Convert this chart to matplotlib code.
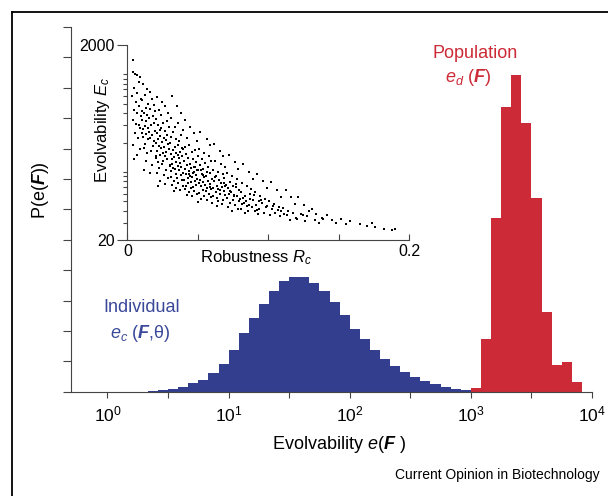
import numpy as np
import matplotlib
matplotlib.use("Agg")
import matplotlib.pyplot as plt
from matplotlib.ticker import FixedLocator, NullFormatter, FixedFormatter
from matplotlib.lines import Line2D

plt.rcParams['font.family'] = ['Liberation Sans', 'DejaVu Sans']
plt.rcParams['mathtext.fontset'] = 'custom'
plt.rcParams['mathtext.rm'] = 'Liberation Sans'
plt.rcParams['mathtext.it'] = 'Liberation Sans:italic'
plt.rcParams['mathtext.bf'] = 'Liberation Sans:bold'
plt.rcParams['mathtext.bfit'] = 'Liberation Sans:italic:bold'

# histogram bins: 12 log bins per decade, given by index of first bin
bins_per_decade = 12
blue_first_bin = 4
red_first_bin = 36
# individual evolvability e_c (arbitrary probability units)
blue_heights = [0.02, 0.06, 0.10, 0.16, 0.27, 0.38, 0.60, 0.91, 1.37, 1.92,
                2.41, 2.90, 3.32, 3.64, 3.78, 3.76, 3.56, 3.32, 2.96, 2.52,
                2.05, 1.73, 1.37, 1.09, 0.85, 0.66, 0.49, 0.36, 0.25, 0.16,
                0.10, 0.06, 0.03, 0.02]
# population evolvability e_d
red_heights = [0.11, 1.75, 5.70, 9.38, 10.42, 8.83, 6.36, 2.63, 0.88, 0.99, 0.33]

# inset scatter: robustness R_c vs evolvability E_c
inset_points = [
    (0.0042, 1400), (0.0038, 1050), (0.0051, 1000), (0.0064, 980), (0.0088, 950),
    (0.0079, 830), (0.0047, 720), (0.0071, 650), (0.0035, 600), (0.0093, 560),
    (0.0058, 520), (0.0083, 470), (0.0044, 430), (0.0069, 400), (0.0097, 370),
    (0.0039, 340), (0.0061, 310), (0.0086, 280), (0.0053, 250), (0.0074, 220),
    (0.0041, 190), (0.0091, 170), (0.0066, 150), (0.0049, 135), (0.0081, 300),
    (0.0102, 420), (0.0105, 250),
    (0.0113, 800), (0.0137, 700), (0.0121, 620), (0.0158, 660), (0.0172, 560),
    (0.0106, 540), (0.0149, 500), (0.0186, 480), (0.0128, 455), (0.0163, 440),
    (0.0194, 420), (0.0117, 400), (0.0141, 380), (0.0179, 370), (0.0155, 355),
    (0.0102, 340), (0.0133, 330), (0.0188, 320), (0.0169, 305), (0.0124, 295),
    (0.0146, 285), (0.0111, 275), (0.0197, 265), (0.0152, 255), (0.0135, 245),
    (0.0177, 238), (0.0108, 230), (0.0161, 222), (0.0143, 215), (0.0191, 205),
    (0.0126, 195), (0.0182, 185), (0.0115, 175), (0.0166, 165), (0.0139, 155),
    (0.0199, 145), (0.0131, 130), (0.0174, 118), (0.0119, 105), (0.0157, 98),
    (0.0213, 590), (0.0247, 520), (0.0268, 470), (0.0222, 430), (0.0291, 400),
    (0.0236, 380), (0.0205, 350), (0.0279, 335), (0.0253, 320), (0.0217, 305),
    (0.0296, 290), (0.0241, 280), (0.0228, 270), (0.0264, 260), (0.0209, 250),
    (0.0284, 240), (0.0233, 232), (0.0257, 225), (0.0219, 218), (0.0273, 210),
    (0.0244, 204), (0.0201, 198), (0.0288, 192), (0.0226, 186), (0.0261, 180),
    (0.0238, 175), (0.0294, 170), (0.0211, 165), (0.0277, 160), (0.0249, 155),
    (0.0232, 150), (0.0266, 145), (0.0203, 140), (0.0282, 135), (0.0255, 130),
    (0.0215, 125), (0.0243, 120), (0.0299, 115), (0.0224, 110), (0.0271, 104),
    (0.0207, 98), (0.0259, 92), (0.0286, 86), (0.0231, 80), (0.0264, 75),
    (0.0218, 72),
    (0.0318, 600), (0.0351, 470), (0.0377, 400), (0.0309, 360), (0.0362, 320),
    (0.0334, 290), (0.0391, 270), (0.0326, 255), (0.0383, 240), (0.0312, 228),
    (0.0346, 216), (0.0369, 205), (0.0304, 196), (0.0357, 188), (0.0338, 180),
    (0.0395, 173), (0.0321, 167), (0.0374, 161), (0.0342, 156), (0.0306, 151),
    (0.0388, 146), (0.0329, 142), (0.0365, 138), (0.0315, 134), (0.0398, 130),
    (0.0348, 126), (0.0372, 122), (0.0302, 119), (0.0356, 116), (0.0381, 113),
    (0.0324, 110), (0.0339, 107), (0.0367, 104), (0.0311, 101), (0.0393, 98),
    (0.0345, 95), (0.0378, 92), (0.0308, 89), (0.0353, 86), (0.0386, 83),
    (0.0331, 80), (0.0361, 77), (0.0314, 74), (0.0397, 71), (0.0343, 68),
    (0.0375, 65), (0.0327, 63), (0.0359, 150), (0.0384, 175), (0.0319, 120),
    (0.0412, 340), (0.0447, 290), (0.0471, 250), (0.0425, 225), (0.0493, 205),
    (0.0438, 190), (0.0406, 178), (0.0482, 168), (0.0459, 160), (0.0417, 152),
    (0.0498, 146), (0.0433, 140), (0.0464, 135), (0.0402, 130), (0.0486, 125),
    (0.0445, 121), (0.0421, 117), (0.0476, 113), (0.0453, 110), (0.0409, 107),
    (0.0491, 104), (0.0436, 101), (0.0468, 98), (0.0414, 95), (0.0484, 92),
    (0.0442, 90), (0.0461, 88), (0.0427, 86), (0.0495, 84), (0.0404, 82),
    (0.0479, 80), (0.0451, 78), (0.0431, 76), (0.0488, 74), (0.0419, 72),
    (0.0466, 70), (0.0448, 68), (0.0407, 66), (0.0473, 64), (0.0439, 62),
    (0.0496, 60), (0.0423, 58), (0.0457, 56), (0.0481, 112), (0.0434, 95),
    (0.0469, 100),
    (0.0517, 255), (0.0562, 215), (0.0589, 190), (0.0508, 170), (0.0546, 155),
    (0.0577, 145), (0.0531, 136), (0.0594, 128), (0.0553, 122), (0.0512, 117),
    (0.0571, 112), (0.0538, 108), (0.0504, 104), (0.0566, 100), (0.0583, 97),
    (0.0527, 94), (0.0559, 91), (0.0541, 88), (0.0598, 85), (0.0515, 83),
    (0.0574, 81), (0.0535, 79), (0.0506, 77), (0.0587, 75), (0.0549, 73),
    (0.0522, 71), (0.0568, 69), (0.0596, 67), (0.0533, 65), (0.0557, 63),
    (0.0511, 61), (0.0579, 59), (0.0544, 57), (0.0592, 55), (0.0525, 53),
    (0.0564, 51), (0.0502, 49), (0.0585, 70), (0.0539, 92), (0.0571, 80),
    (0.0519, 105),
    (0.0613, 195), (0.0655, 165), (0.0681, 145), (0.0622, 130), (0.0667, 120),
    (0.0694, 112), (0.0608, 105), (0.0641, 99), (0.0676, 94), (0.0629, 90),
    (0.0688, 86), (0.0651, 83), (0.0617, 80), (0.0663, 77), (0.0698, 74),
    (0.0635, 72), (0.0672, 70), (0.0604, 68), (0.0646, 66), (0.0685, 64),
    (0.0626, 62), (0.0659, 60), (0.0691, 58), (0.0611, 56), (0.0638, 54),
    (0.0679, 52), (0.0644, 50), (0.0602, 48), (0.0669, 47), (0.0633, 45),
    (0.0687, 76), (0.0619, 88), (0.0657, 65), (0.0696, 72),
    (0.0719, 150), (0.0763, 125), (0.0788, 108), (0.0707, 98), (0.0742, 90),
    (0.0781, 84), (0.0726, 79), (0.0769, 75), (0.0753, 71), (0.0711, 68),
    (0.0794, 65), (0.0737, 62), (0.0722, 60), (0.0758, 58), (0.0776, 56),
    (0.0704, 54), (0.0748, 52), (0.0791, 50), (0.0731, 48), (0.0766, 46),
    (0.0714, 44), (0.0785, 42), (0.0744, 40), (0.0728, 64), (0.0772, 70),
    (0.0756, 57), (0.0799, 53),
    (0.0823, 120), (0.0861, 100), (0.0894, 85), (0.0812, 77), (0.0847, 71),
    (0.0876, 66), (0.0806, 62), (0.0869, 59), (0.0834, 56), (0.0818, 54),
    (0.0889, 52), (0.0842, 50), (0.0827, 48), (0.0865, 46), (0.0881, 44),
    (0.0803, 42), (0.0856, 40), (0.0838, 38), (0.0897, 58), (0.0815, 47),
    (0.0873, 53), (0.0851, 45),
    (0.0921, 95), (0.0964, 80), (0.0988, 68), (0.0909, 62), (0.0943, 57),
    (0.0976, 53), (0.0932, 50), (0.0958, 48), (0.0914, 46), (0.0981, 44),
    (0.0937, 42), (0.0903, 40), (0.0969, 38), (0.0926, 37), (0.0994, 45),
    (0.0952, 52), (0.0917, 41),
    (0.1018, 78), (0.1063, 65), (0.1089, 55), (0.1007, 50), (0.1042, 47),
    (0.1076, 44), (0.1025, 42), (0.1094, 40), (0.1051, 38), (0.1012, 36),
    (0.1083, 35), (0.1036, 45), (0.1069, 41),
    (0.1124, 65), (0.1162, 55), (0.1187, 47), (0.1106, 43), (0.1143, 40),
    (0.1178, 38), (0.1131, 36), (0.1195, 34), (0.1152, 32), (0.1115, 37),
    (0.1214, 55), (0.1253, 46), (0.1291, 40), (0.1232, 37), (0.1276, 35),
    (0.1207, 33), (0.1263, 31), (0.1244, 36),
    (0.131, 42), (0.134, 37), (0.138, 34), (0.133, 32), (0.136, 30), (0.139, 33),
    (0.142, 36), (0.145, 32), (0.148, 30), (0.152, 33), (0.155, 29), (0.158, 31),
    (0.165, 29), (0.170, 28), (0.174, 30), (0.176, 27), (0.182, 26), (0.188, 25.5),
    (0.190, 26),
]

blue = '#333f8e'
red = '#cc2a36'

fig = plt.figure(figsize=(6.08, 4.96), dpi=100)
ax = fig.add_axes([0.1168, 0.2103, 0.8569, 0.7353])

blue_edges = 10 ** ((np.arange(len(blue_heights) + 1) + blue_first_bin) / bins_per_decade)
red_edges = 10 ** ((np.arange(len(red_heights) + 1) + red_first_bin) / bins_per_decade)
ax.stairs(blue_heights, blue_edges, fill=True, color=blue, linewidth=0)
ax.stairs(red_heights, red_edges, fill=True, color=red, linewidth=0)

ax.set_xscale('log')
ax.set_xlim(0.5, 1e4)
ax.set_ylim(0, 12)
ax.spines['top'].set_visible(False)
ax.spines['right'].set_visible(False)
for s in ['left', 'bottom']:
    ax.spines[s].set_linewidth(0.8)
    ax.spines[s].set_color('#444444')
ax.xaxis.set_major_locator(FixedLocator([1, 10, 100, 1000, 10000]))
ax.xaxis.set_minor_locator(FixedLocator([10 ** 0.5, 10 ** 1.5, 10 ** 2.5, 10 ** 3.5]))
ax.xaxis.set_minor_formatter(NullFormatter())
ax.tick_params(axis='x', which='both', direction='out', length=4, width=0.8,
               color='#444444', labelsize=12.5, pad=5)
ax.yaxis.set_major_locator(FixedLocator(np.arange(0, 13)))
ax.tick_params(axis='y', direction='out', length=6, width=0.8, color='#444444',
               labelleft=False)

fig.text(0.067, 0.617, r'P(e($\mathbfit{F}$))', rotation=90, ha='center', va='center',
         fontsize=13)
fig.text(0.557, 0.104, r'Evolvability $e$($\mathbfit{F}$ )', ha='center', va='center',
         fontsize=13)
fig.text(0.987, 0.042, 'Current Opinion in Biotechnology', ha='right', va='center',
         fontsize=10)

fig.text(0.781, 0.893, 'Population', color=red, ha='center', va='center', fontsize=13)
fig.text(0.770, 0.843, r'$e_d$ ($\mathbfit{F}$)', color=red, ha='center', va='center',
         fontsize=13)
fig.text(0.233, 0.381, 'Individual', color='#3a4899', ha='center', va='center', fontsize=13)
fig.text(0.231, 0.327, r'$e_c$ ($\mathbfit{F}$,θ)', color='#3a4899', ha='center',
         va='center', fontsize=13)

# inset
axi = fig.add_axes([0.2097, 0.5161, 0.463, 0.3931])
axi.patch.set_alpha(0)
R = [p[0] for p in inset_points]
E = [p[1] for p in inset_points]
axi.scatter(R, E, s=1.4, c='black', marker='s', linewidths=0)
axi.set_yscale('log')
axi.set_xlim(0, 0.2)
axi.set_ylim(20, 2000)
axi.spines['top'].set_visible(False)
axi.spines['right'].set_visible(False)
for s in ['left', 'bottom']:
    axi.spines[s].set_linewidth(0.8)
    axi.spines[s].set_color('#444444')
axi.xaxis.set_major_locator(FixedLocator([0, 0.2]))
axi.xaxis.set_major_formatter(FixedFormatter(['0', '0.2']))
axi.xaxis.set_minor_locator(FixedLocator([0.05, 0.1, 0.15]))
axi.tick_params(axis='x', which='both', direction='in', length=4, width=0.8,
                color='#444444', labelsize=11.5, pad=3)
axi.yaxis.set_major_locator(FixedLocator([20, 2000]))
axi.yaxis.set_major_formatter(FixedFormatter(['20', '2000']))
axi.yaxis.set_minor_locator(FixedLocator([30, 40, 50, 60, 70, 80, 90, 100, 200, 300,
                                          400, 500, 600, 700, 800, 900, 1000]))
axi.yaxis.set_minor_formatter(NullFormatter())
axi.tick_params(axis='y', which='major', direction='out', length=7, width=0.8,
                color='#444444', labelsize=11.5, pad=2)
axi.tick_params(axis='y', which='minor', direction='out', length=3, width=0.8,
                color='#444444')
axi.text(0.091, -0.092, r'Robustness $R_c$', transform=axi.get_xaxis_transform(),
         ha='center', va='center', fontsize=12)
axi.text(-0.089, 0.564, r'Evolvability $E_c$', transform=axi.transAxes, rotation=90,
         ha='center', va='center', fontsize=12)

# outer frame (top and left edges visible)
fx = 12 / 608
fy = 1 - 12 / 496
fig.add_artist(Line2D([fx, fx], [fy, 0], transform=fig.transFigure, color='black', lw=1.3))
fig.add_artist(Line2D([fx, 1], [fy, fy], transform=fig.transFigure, color='black', lw=1.3))

fig.savefig('out.png', dpi=100)
